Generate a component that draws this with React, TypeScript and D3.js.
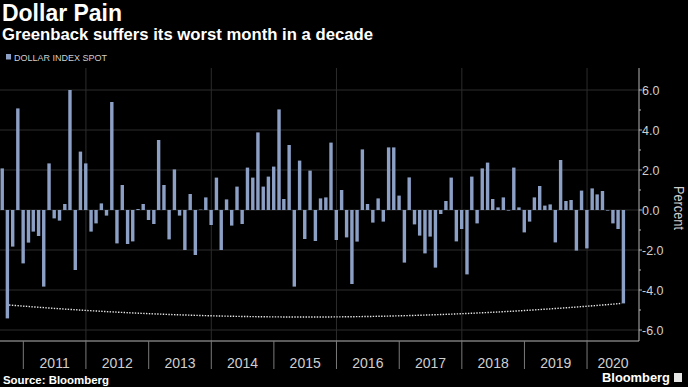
import React from "react";
import * as d3 from "d3";

// monthly % change of the dollar index, one array per calendar year
const firstMonth = new Date(2010, 7, 1); // Aug 2010
const chg2010 = [2.08, -5.42, -1.83, 5.08, -2.67];
const chg2011 = [-1.63, -1.08, -1.3, -3.83, 2.33, -0.42, -0.53, 0.3, 6.0, -3.0, 2.92, 2.33];
const chg2012 = [-1.08, -0.67, 0.33, -0.28, 5.4, -1.67, 1.25, -1.7, -1.57, 0.05, 0.3, -0.5];
const chg2013 = [-0.7, 3.5, 1.25, -1.47, 2.03, -0.28, -2.0, 0.8, -2.25, 0.02, 0.63, -0.75];
const chg2014 = [1.62, -2.0, 0.53, -0.78, 1.17, -0.7, 2.12, 1.62, 3.88, 1.17, 1.67, 2.17];
const chg2015 = [5.03, 0.55, 3.25, -3.83, 2.47, -1.45, 1.97, -1.55, 0.58, 0.63, 3.37, -1.5];
const chg2016 = [1.0, -1.37, -3.7, -1.58, 3.03, 0.3, -0.63, 0.58, -0.58, 3.13, 3.13, 0.72];
const chg2017 = [-2.63, 1.63, -0.72, -1.28, -2.17, -1.33, -2.88, -0.2, 0.45, 1.62, -1.57, -0.95];
const chg2018 = [-3.22, 1.67, -0.67, 2.08, 2.37, 0.55, 0.13, 0.63, -0.03, 2.12, 0.13, -1.12];
const chg2019 = [-0.58, 0.63, 1.2, 0.22, 0.28, -1.62, 2.5, 0.45, 0.5, -2.03, 0.97, -1.92];
const chg2020 = [1.08, 0.78, 0.95, -0.03, -0.67, -0.95, -4.67];

const years = [2011, 2012, 2013, 2014, 2015, 2016, 2017, 2018, 2019, 2020];
const gridYears = [2012, 2014, 2016, 2018, 2020];
const yTicks = [-6, -4, -2, 0, 2, 4, 6];
const yMinor = [-5, -3, -1, 1, 3, 5];

// dotted "decade" annotation: from Sep 2010 to Jul 2020, sagging in between
const arcValues = [-4.75, -5.35, -4.67];

const values = [
  ...chg2010, ...chg2011, ...chg2012, ...chg2013, ...chg2014, ...chg2015,
  ...chg2016, ...chg2017, ...chg2018, ...chg2019, ...chg2020,
];

const data = values.map((v, i) => {
  const m = d3.timeMonth.offset(firstMonth, i);
  return { date: new Date(m.getFullYear(), m.getMonth() + 1, 0), value: v };
});

const W = 688, H = 387;
const left = 0, right = 639, top = 68, bottom = 341;
const font = "'Liberation Sans', Arial, sans-serif";
const narrow = "'Liberation Sans Narrow', 'Arial Narrow', 'Liberation Sans', sans-serif";
const barColor = "#8c9fc4";
const gridColor = "#2c2c2c";
const axisColor = "#b5b5b5";
const textColor = "#cfcfcf";

export default function App() {
  const x = d3.scaleTime()
    .domain([new Date(2010, 7, 18), new Date(2020, 9, 30)])
    .range([left, right]);
  const y = d3.scaleLinear().domain([-6.55, 7.1]).range([bottom, top]);
  const barW = 3.4;

  const first = data[1];
  const last = data[data.length - 1];
  const x0 = x(first.date) + barW / 2;
  const x1 = x(last.date) - barW / 2;
  const ctrl = 2 * arcValues[1] - (arcValues[0] + arcValues[2]) / 2;
  const p = d3.path();
  p.moveTo(x0, y(arcValues[0]));
  p.quadraticCurveTo((x0 + x1) / 2, y(ctrl), x1, y(arcValues[2]));

  const yearX = (yr: number) => x(new Date(yr, 0, 1));

  return (
    <div style={{ position: "absolute", left: 0, top: 0, width: W, height: H, background: "#000" }}>
      <svg width={W} height={H} style={{ display: "block" }}>
        <rect width={W} height={H} fill="#000" />
        <text x={2} y={21} fill="#fff" fontFamily={font} fontWeight="bold" fontSize={23}
          textLength={120} lengthAdjust="spacingAndGlyphs">Dollar Pain</text>
        <text x={2} y={39.5} fill="#fff" fontFamily={font} fontWeight="bold" fontSize={16}
          textLength={371} lengthAdjust="spacingAndGlyphs">Greenback suffers its worst month in a decade</text>
        <rect x={6} y={54} width={5} height={5.5} fill={barColor} />
        <text x={14} y={61} fill={textColor} fontFamily={font} fontSize={9.5}
          textLength={93} lengthAdjust="spacingAndGlyphs">DOLLAR INDEX SPOT</text>

        {/* grid */}
        {yTicks.map((t) => (
          <line key={"g" + t} x1={left} x2={right} y1={y(t)} y2={y(t)} stroke={gridColor} strokeWidth={1} />
        ))}
        {gridYears.map((yr) => (
          <line key={"v" + yr} x1={yearX(yr)} x2={yearX(yr)} y1={top} y2={bottom} stroke={gridColor} strokeWidth={1} />
        ))}

        {/* bars */}
        {data.map((d, i) => (
          <rect key={i} x={x(d.date) - barW / 2} width={barW}
            y={y(Math.max(0, d.value))} height={Math.abs(y(d.value) - y(0))} fill={barColor} />
        ))}

        <path d={p.toString()} fill="none" stroke="#e6e6e6" strokeWidth={1.4} strokeDasharray="1.4,1.4" />

        {/* right axis */}
        <line x1={right} x2={right} y1={top} y2={bottom} stroke={axisColor} strokeWidth={1} />
        {yTicks.map((t) => (
          <g key={"t" + t}>
            <line x1={right} x2={right + 3} y1={y(t)} y2={y(t)} stroke={axisColor} />
            <text x={right + 3} y={y(t) + 4.5} fill={textColor} fontFamily={narrow} fontSize={12.5}>{t.toFixed(1)}</text>
          </g>
        ))}
        {yMinor.map((t) => (
          <line key={"m" + t} x1={right} x2={right + 2} y1={y(t)} y2={y(t)} stroke={axisColor} />
        ))}
        <text transform={`translate(674,${y(0) - 2}) rotate(90)`} textAnchor="middle" fill={textColor}
          fontFamily={font} fontSize={14} textLength={44} lengthAdjust="spacingAndGlyphs">Percent</text>

        {/* bottom axis */}
        <line x1={left} x2={right} y1={bottom} y2={bottom} stroke={axisColor} strokeWidth={1} />
        {years.map((yr) => (
          <line key={"s" + yr} x1={yearX(yr)} x2={yearX(yr)} y1={bottom} y2={369} stroke="#7a7a7a" />
        ))}
        {years.map((yr) => {
          const a = yearX(yr);
          const b = Math.min(yearX(yr + 1), right);
          return (
            <text key={"y" + yr} x={(a + b) / 2} y={368} textAnchor="middle" fill={textColor}
              fontFamily={narrow} fontSize={14}>{yr}</text>
          );
        })}

        <text x={3} y={383.5} fill="#fff" fontFamily={font} fontWeight="bold" fontSize={11.5}
          textLength={106} lengthAdjust="spacingAndGlyphs">Source: Bloomberg</text>
        <text x={602} y={382} fill="#fff" fontFamily={font} fontWeight="bold" fontSize={12}
          textLength={68} lengthAdjust="spacingAndGlyphs">Bloomberg</text>
        <rect x={674} y={373} width={8} height={9} fill="#e6e6e6" />
      </svg>
    </div>
  );
}
